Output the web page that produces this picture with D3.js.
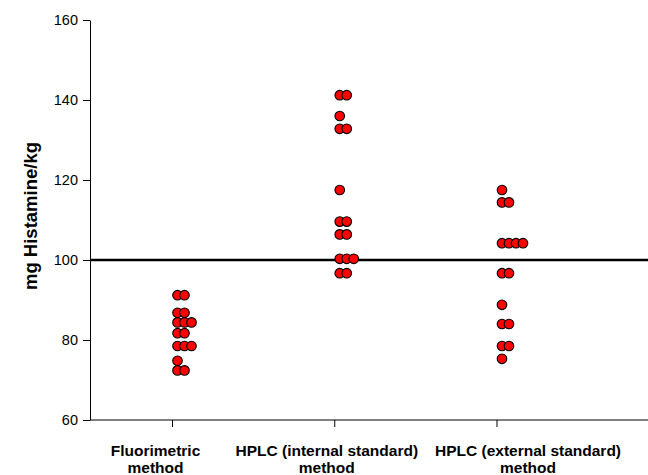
<!DOCTYPE html>
<html>
<head>
<meta charset="utf-8">
<script src="https://cdn.jsdelivr.net/npm/d3@7"></script>
<style>
  body { margin: 0; background: #fff; }
  text { font-family: Arial, "Liberation Sans", sans-serif; }
</style>
</head>
<body>
<script>
var width = 648, height = 475

// categories and measured values (mg histamine / kg)
var categories = ["Fluorimetric method", "HPLC (internal standard) method", "HPLC (external standard) method"]
var fluorimetric = [91.2, 91.2, 86.8, 86.8, 84.4, 84.4, 84.4, 81.7, 81.7, 78.5, 78.5, 78.5, 74.8, 72.4, 72.4]
var hplcInternal = [141.2, 141.2, 136.0, 132.8, 132.8, 117.5, 109.6, 109.6, 106.4, 106.4, 100.3, 100.3, 100.3, 96.7, 96.7]
var hplcExternal = [117.5, 114.4, 114.4, 104.2, 104.2, 104.2, 104.2, 96.7, 96.7, 88.8, 84.0, 84.0, 78.5, 78.5, 75.3]
var series = [fluorimetric, hplcInternal, hplcExternal]
var yTicks = [60, 80, 100, 120, 140, 160]
var refValue = 100

var margin = {left: 90, top: 20, bottom: 55}
// the category labels sit a bit off their ticks in the original
var labelShift = [-17, -8, 31]

var svg = d3.select("body").append("svg")
  .attr("width", width)
  .attr("height", height)

var y = d3.scaleLinear()
  .domain([60, 160])
  .range([height - margin.bottom, margin.top])

var x = d3.scalePoint()
  .domain(categories)
  .range([172.5, 497])

// y axis
svg.append("g")
  .attr("transform", "translate(" + margin.left + ",0)")
  .call(d3.axisLeft(y).tickValues(yTicks).tickSize(7).tickPadding(5).tickSizeOuter(0))
  .call(function(g) {
    g.selectAll("text").style("font-size", "14.5px").attr("fill", "#000")
    g.selectAll("line, path").attr("stroke", "#000")
  })

// x axis, running to the right edge
var xAxis = svg.append("g")
  .attr("transform", "translate(0," + y(60) + ")")

xAxis.append("line")
  .attr("x1", margin.left).attr("x2", width)
  .attr("stroke", "#000")

xAxis.selectAll("line.tick")
  .data(categories)
  .enter().append("line")
  .attr("class", "tick")
  .attr("x1", function(d) { return x(d) }).attr("x2", function(d) { return x(d) })
  .attr("y1", 0).attr("y2", 7)
  .attr("stroke", "#000")

var labels = xAxis.selectAll("text")
  .data(categories)
  .enter().append("text")
  .attr("text-anchor", "middle")
  .attr("transform", function(d, i) { return "translate(" + (x(d) + labelShift[i]) + ",36)" })
  .style("font-size", "15.5px")
  .style("font-weight", "bold")

labels.each(function(d) {
  var cut = d.lastIndexOf(" ")
  var t = d3.select(this)
  t.append("tspan").attr("x", 0).attr("y", 0).text(d.slice(0, cut))
  t.append("tspan").attr("x", 0).attr("y", 17).text(d.slice(cut + 1))
})

// y label
svg.append("text")
  .attr("transform", "translate(37,216) rotate(-90)")
  .attr("text-anchor", "middle")
  .style("font-size", "18.5px")
  .style("font-weight", "bold")
  .text("mg Histamine/kg")

// reference line
svg.append("line")
  .attr("x1", margin.left).attr("x2", width)
  .attr("y1", y(refValue)).attr("y2", y(refValue))
  .attr("stroke", "#000")
  .attr("stroke-width", 2.5)

// dots: equal values are placed side by side
var dots = []
series.forEach(function(vals, i) {
  var seen = {}
  vals.forEach(function(v) {
    var k = seen[v] || 0
    seen[v] = k + 1
    dots.push({cat: categories[i], value: v, slot: k})
  })
})

svg.append("g")
  .selectAll("circle")
  .data(dots)
  .enter().append("circle")
  .attr("cx", function(d) { return x(d.cat) + 5 + d.slot * 7 })
  .attr("cy", function(d) { return y(d.value) })
  .attr("r", 4.8)
  .attr("fill", "#ff0000")
  .attr("stroke", "#000")
  .attr("stroke-width", 1.1)
</script>
</body>
</html>
